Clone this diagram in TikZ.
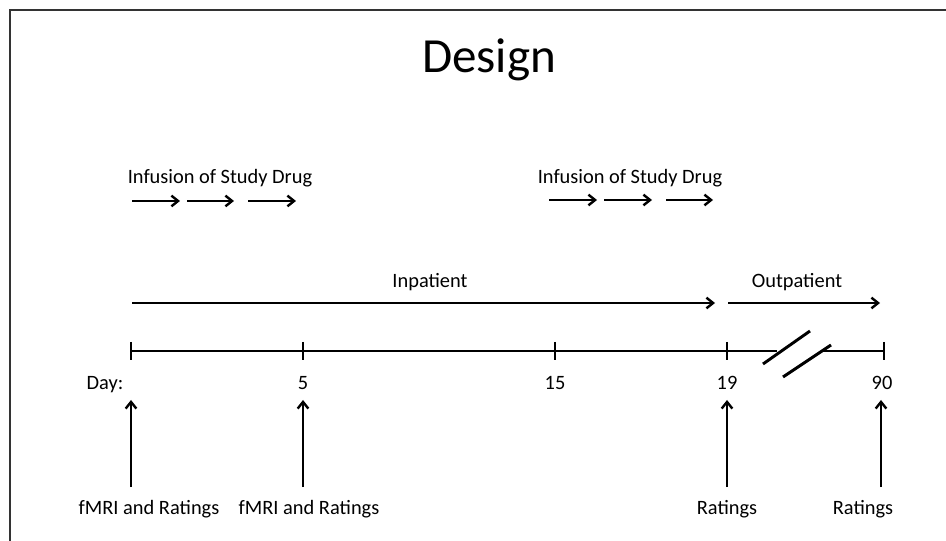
\documentclass[tikz,border=0pt]{standalone}
\usepackage{fontspec}
\setmainfont{Carlito}
\usetikzlibrary{arrows.meta}
\usetikzlibrary{calc}

\begin{document}
\begin{tikzpicture}[x=0.75pt, y=-0.75pt, font=\fontsize{15.3}{18}\selectfont,
        >={Straight Barb[length=5pt, width=8pt]}]
        \useasboundingbox (0,0) rectangle (946,541);
        
        \coordinate (F1) at (10,541);
        \coordinate (F2) at (10,10);
        \coordinate (F3) at (946,10);
        \draw[line width=1.5pt, black!80] (F1) -- (F2) -- (F3);
        
        \node[anchor=base] (title) at (489,73) {\fontsize{36.8}{42}\selectfont Design};
        
        \node[anchor=base] (inf1) at (220,184) {Infusion of Study Drug};
        \node[anchor=base] (inf2) at (630,184) {Infusion of Study Drug};
        
        \draw[->, line width=1.8pt, black] (132,201) -- (180,201);
        \draw[->, line width=1.8pt, black] (187,201) -- (234,201);
        \draw[->, line width=1.8pt, black] (248,201) -- (296,201);
        \draw[->, line width=1.8pt, black] (549,200) -- (597,200);
        \draw[->, line width=1.8pt, black] (604,200) -- (652,200);
        \draw[->, line width=1.8pt, black] (666,200) -- (713,200);
        
        \coordinate (A) at (131,351);
        \coordinate (B) at (303,351);
        \coordinate (C) at (555,351);
        \coordinate (D) at (727,351);
        \coordinate (E) at (884,351);
        
        \draw[->, line width=1.8pt, black] (132,303) -- (715,303);
        \draw[->, line width=1.8pt, black] (728,303) -- (880,303);
        \node[anchor=base] (inp) at (430,288) {Inpatient};
        \node[anchor=base] (outp) at (797,288) {Outpatient};
        
        \draw[line width=2.2pt, black] (A) -- (777,351);
        \draw[line width=2.2pt, black] (823,351) -- (E);
        \draw[line width=2.2pt, black] (763,364) -- (810,331);
        \draw[line width=2.2pt, black] (783,377) -- (831,345);
        \foreach \p in {A,B,C,D,E}
            \draw[line width=2.2pt, black] ($(\p)+(0,-9)$) -- ($(\p)+(0,9)$);
        
        \node[anchor=base] (dA) at (105,390) {Day:};
        \node[anchor=base] (dB) at (303,390) {5};
        \node[anchor=base] (dC) at (555,390) {15};
        \node[anchor=base] (dD) at (727,390) {19};
        \node[anchor=base] (dE) at (882,390) {90};
        
        \draw[->, line width=1.8pt, black] (131,487) -- (131,400);
        \draw[->, line width=1.8pt, black] (303,487) -- (303,400);
        \draw[->, line width=1.8pt, black] (727,487) -- (727,400);
        \draw[->, line width=1.8pt, black] (881,487) -- (881,400);
        
        \node[anchor=base] (rA) at (149,514) {fMRI and Ratings};
        \node[anchor=base] (rB) at (309,514) {fMRI and Ratings};
        \node[anchor=base] (rD) at (727,514) {Ratings};
        \node[anchor=base] (rE) at (863,514) {Ratings};
    
    \end{tikzpicture}
\end{document}
